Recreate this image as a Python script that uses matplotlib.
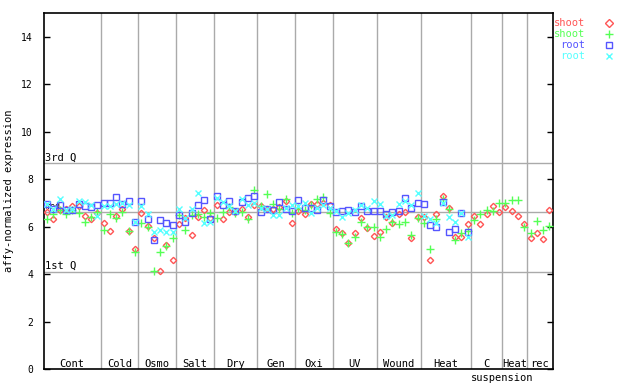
import numpy as np
import matplotlib
matplotlib.use("Agg")
import matplotlib.pyplot as plt

# groups of samples along the x axis
groups = ["Cont", "Cold", "Osmo", "Salt", "Dry", "Gen", "Oxi", "UV", "Wound", "Heat", "C", "Heat", "rec"]
group_sizes = [9, 6, 6, 6, 7, 6, 6, 7, 7, 8, 5, 4, 4]

# shoot replicate 1 (red diamonds)
shoot_1 = [6.62, 6.30, 6.70, 6.75, 6.88, 6.85, 6.44, 6.33, 6.58, 6.14,
           5.82, 6.44, 6.75, 5.80, 5.05, 6.56, 6.02, 5.50, 4.14, 5.22,
           4.59, 6.09, 6.35, 5.64, 6.39, 6.70, 6.35, 6.90, 6.32, 6.60,
           6.60, 6.73, 6.42, 6.91, 6.85, 6.73, 6.75, 6.84, 7.09, 6.14,
           6.67, 6.53, 6.94, 6.94, 6.98, 6.89, 5.88, 5.72, 5.32, 5.72,
           6.35, 5.93, 5.60, 5.77, 6.42, 6.14, 6.52, 6.60, 5.50, 6.39,
           6.42, 4.59, 6.52, 7.29, 6.77, 5.57, 5.55, 6.12, 6.43, 6.13,
           6.51, 6.86, 6.63, 6.84, 6.64, 6.46, 6.12, 5.52, 5.73, 5.48,
           6.72]
# shoot replicate 2 (green plus)
shoot_2 = [6.34, 6.55, 6.70, 6.52, 6.70, 6.58, 6.20, 6.39, 6.60, 5.86,
           6.52, 6.35, 6.60, 5.83, 4.92, 6.14, 6.00, 4.14, 4.94, 5.18,
           5.50, 6.50, 5.86, 6.50, 6.52, 6.42, 6.58, 6.35, 6.60, 6.84,
           6.56, 6.63, 6.30, 7.54, 6.87, 7.37, 6.95, 6.75, 7.16, 6.59,
           6.80, 6.70, 6.90, 7.16, 7.23, 6.56, 5.76, 5.69, 5.32, 5.57,
           6.18, 5.97, 5.97, 5.55, 5.88, 6.20, 6.11, 6.20, 5.64, 6.35,
           6.14, 5.04, 6.30, 7.15, 6.75, 5.43, 5.72, 5.80, 6.29, 6.55,
           6.69, 6.64, 7.00, 7.00, 7.10, 7.14, 5.98, 5.74, 6.25, 5.86,
           6.04]
# root replicate 1 (blue squares)
root_1 = [6.95, 6.73, 6.90, 6.70, 6.70, 6.95, 6.86, 6.82, 6.89, 6.98,
          6.98, 7.23, 6.94, 7.06, 6.20, 7.08, 6.32, 5.42, 6.28, 6.15,
          6.07, 6.49, 6.20, 6.56, 6.89, 7.10, 6.32, 7.29, 6.91, 7.08,
          6.67, 7.02, 7.19, 7.29, 6.60, 6.75, 6.72, 7.02, 6.74, 6.64,
          7.10, 6.77, 6.77, 6.70, 7.10, 6.85, 6.61, 6.64, 6.68, 6.63,
          6.87, 6.64, 6.64, 6.64, 6.52, 6.60, 6.64, 7.19, 6.77, 6.98,
          6.94, 6.05, 5.97, 7.02, 5.76, 5.88, 6.56, 5.76]
# root replicate 2 (cyan x)
root_2 = [6.95, 6.75, 7.16, 6.72, 6.75, 7.09, 7.02, 6.90, 6.44, 6.88,
          6.87, 6.95, 6.98, 6.90, 6.20, 6.85, 6.52, 5.78, 5.86, 5.78,
          5.78, 6.73, 6.35, 6.73, 7.40, 6.14, 6.20, 7.19, 7.05, 6.85,
          6.64, 7.16, 6.91, 7.00, 6.80, 6.75, 6.49, 6.49, 6.80, 6.91,
          6.85, 6.98, 6.56, 6.80, 6.90, 6.80, 6.65, 6.42, 6.56, 6.70,
          6.90, 6.77, 7.09, 6.95, 6.44, 6.50, 6.95, 7.09, 6.91, 7.40,
          6.44, 6.30, 6.16, 7.00, 6.39, 6.20, 6.56, 5.57]

q1 = 4.07
med = 6.61
q3 = 8.66

red = "#ff5555"
green = "#55ff55"
blue = "#5555ff"
cyan = "#55ffff"
grey = "#aaaaaa"
mono = "DejaVu Sans Mono"

fig = plt.figure(figsize=(6.4, 3.84), dpi=100)
ax = fig.add_axes([44 / 640, 15 / 384, 508.5 / 640, 356 / 384])

n_total = sum(group_sizes)
ax.set_xlim(0, n_total)
ax.set_ylim(0, 15)

# group separators and labels
edges = np.cumsum([0] + group_sizes)
for e in edges[1:-1]:
    ax.axvline(e, color=grey, lw=1, zorder=1)
for name, a, b in zip(groups, edges[:-1], edges[1:]):
    ax.text((a + b) / 2, 0.22, name, ha="center", va="center", fontsize=7.5, family=mono)
ax.text(73.0, -0.36, "suspension", ha="center", va="center", fontsize=7.5, family=mono, clip_on=False)

# quartile lines
for v in [q1, med, q3]:
    ax.axhline(v, color=grey, lw=1, zorder=1)
ax.text(0.2, q3 + 0.05, "3rd Q", ha="left", va="bottom", fontsize=7.5, family=mono)
ax.text(0.2, q1 + 0.05, "1st Q", ha="left", va="bottom", fontsize=7.5, family=mono)
ax.text(0.2, med + 0.05, "med", ha="left", va="bottom", fontsize=6, family=mono)

xs = np.arange(n_total) + 0.5
xr = np.arange(len(root_1)) + 0.5
ax.plot(xs, shoot_1, ls="none", marker="D", ms=3.2, mfc="none", mec=red, mew=1.0, zorder=3)
ax.plot(xs, shoot_2, ls="none", marker="+", ms=6, mec=green, mew=1.0, zorder=3)
ax.plot(xr, root_1, ls="none", marker="s", ms=4.2, mfc="none", mec=blue, mew=1.0, zorder=3)
ax.plot(xr, root_2, ls="none", marker="x", ms=4.2, mec=cyan, mew=1.0, zorder=3)

ax.set_xticks([])
ax.set_yticks(range(0, 15, 2))
ax.tick_params(axis="y", direction="in", length=4.5, width=1, pad=8,
               labelsize=7, right=True, left=True)
for lab in ax.get_yticklabels():
    lab.set_family(mono)
ax.set_ylabel("affy-normalized expression", fontsize=7.5, family=mono, labelpad=5)
for sp in ax.spines.values():
    sp.set_linewidth(1.2)

# legend, drawn by hand at top right
leg = [("shoot", red, "D"), ("shoot", green, "+"), ("root", blue, "s"), ("root", cyan, "x")]
for k, (txt, col, mk) in enumerate(leg):
    yy = 1 - (23 + 11 * k) / 384
    fig.text(585 / 640, yy, txt, color=col, ha="right", va="center", fontsize=7.5, family=mono)
    fig.add_artist(plt.Line2D([609 / 640], [yy], transform=fig.transFigure, ls="none",
                              marker=mk, ms=4 if mk != "+" else 6, mfc="none", mec=col, mew=1.0))

fig.savefig("out.png", dpi=100)
